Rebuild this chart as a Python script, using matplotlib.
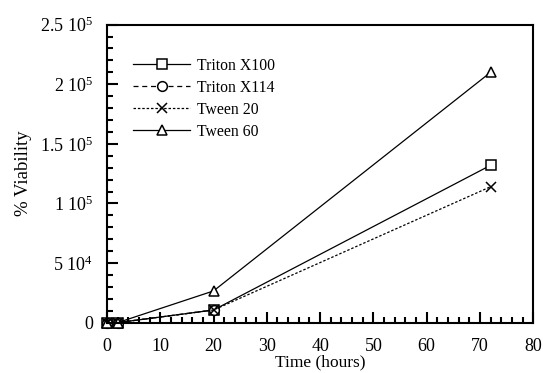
import matplotlib
matplotlib.use("Agg")
import matplotlib.pyplot as plt
from matplotlib.ticker import MultipleLocator, FixedLocator

plt.rcParams['font.family'] = ['Liberation Serif', 'DejaVu Serif']
plt.rcParams['mathtext.fontset'] = 'custom'
plt.rcParams['mathtext.rm'] = 'Liberation Serif'
plt.rcParams['mathtext.it'] = 'Liberation Serif:italic'

# Data
hours_x100 = [0, 2, 20, 72]
triton_x100 = [0, 0, 10600, 132000]
hours_x114 = [0, 2, 20]
triton_x114 = [0, 0, 10600]
hours_t20 = [0, 2, 20, 72]
tween_20 = [0, 0, 10600, 114000]
hours_t60 = [0, 2, 20, 72]
tween_60 = [0, 0, 26600, 210000]

ytick_vals = [0, 50000, 100000, 150000, 200000, 250000]
ytick_labels = ['0', r'5 10$^4$', r'1 10$^5$', r'1.5 10$^5$', r'2 10$^5$', r'2.5 10$^5$']
xtick_vals = [0, 10, 20, 30, 40, 50, 60, 70, 80]

fig = plt.figure(figsize=(5.43, 3.73), dpi=100)
ax = fig.add_axes([0.197, 0.135, 0.785, 0.799])

kw = dict(color='black', lw=0.9, markersize=7, markerfacecolor='white',
          markeredgewidth=1.1, clip_on=False)
ax.plot(hours_x100, triton_x100, ls='-', marker='s', label='Triton X100', **kw)
ax.plot(hours_x114, triton_x114, ls=(0, (4, 3)), marker='o', label='Triton X114', **kw)
ax.plot(hours_t20, tween_20, ls=(0, (2, 1.5)), marker='x', label='Tween 20', **kw)
ax.plot(hours_t60, tween_60, ls='-', marker='^', label='Tween 60', **kw)

ax.set_xlim(0, 80)
ax.set_ylim(0, 250000)
ax.xaxis.set_major_locator(FixedLocator(xtick_vals))
ax.xaxis.set_minor_locator(MultipleLocator(2))
ax.yaxis.set_major_locator(FixedLocator(ytick_vals))
ax.set_yticklabels(ytick_labels)
ax.yaxis.set_minor_locator(MultipleLocator(10000))

ax.tick_params(which='both', direction='in', top=False, right=False, width=1.5,
               labelsize=13)
ax.tick_params(which='major', length=8)
ax.tick_params(axis='x', which='major', pad=11)
ax.tick_params(axis='y', which='major', pad=10)
ax.tick_params(which='minor', length=4)
for s in ax.spines.values():
    s.set_linewidth(1.5)

ax.set_xlabel('Time (hours)', fontsize=12.5)
ax.xaxis.set_label_coords(0.5, -0.108)
ax.set_ylabel('% Viability', fontsize=13.5, labelpad=6)

leg = ax.legend(loc='upper left', bbox_to_anchor=(0.047, 0.91), frameon=False,
                fontsize=11.3, handlelength=3.6, handletextpad=0.45,
                labelspacing=0.38, borderaxespad=0.0)

fig.savefig('out.png', dpi=100)
